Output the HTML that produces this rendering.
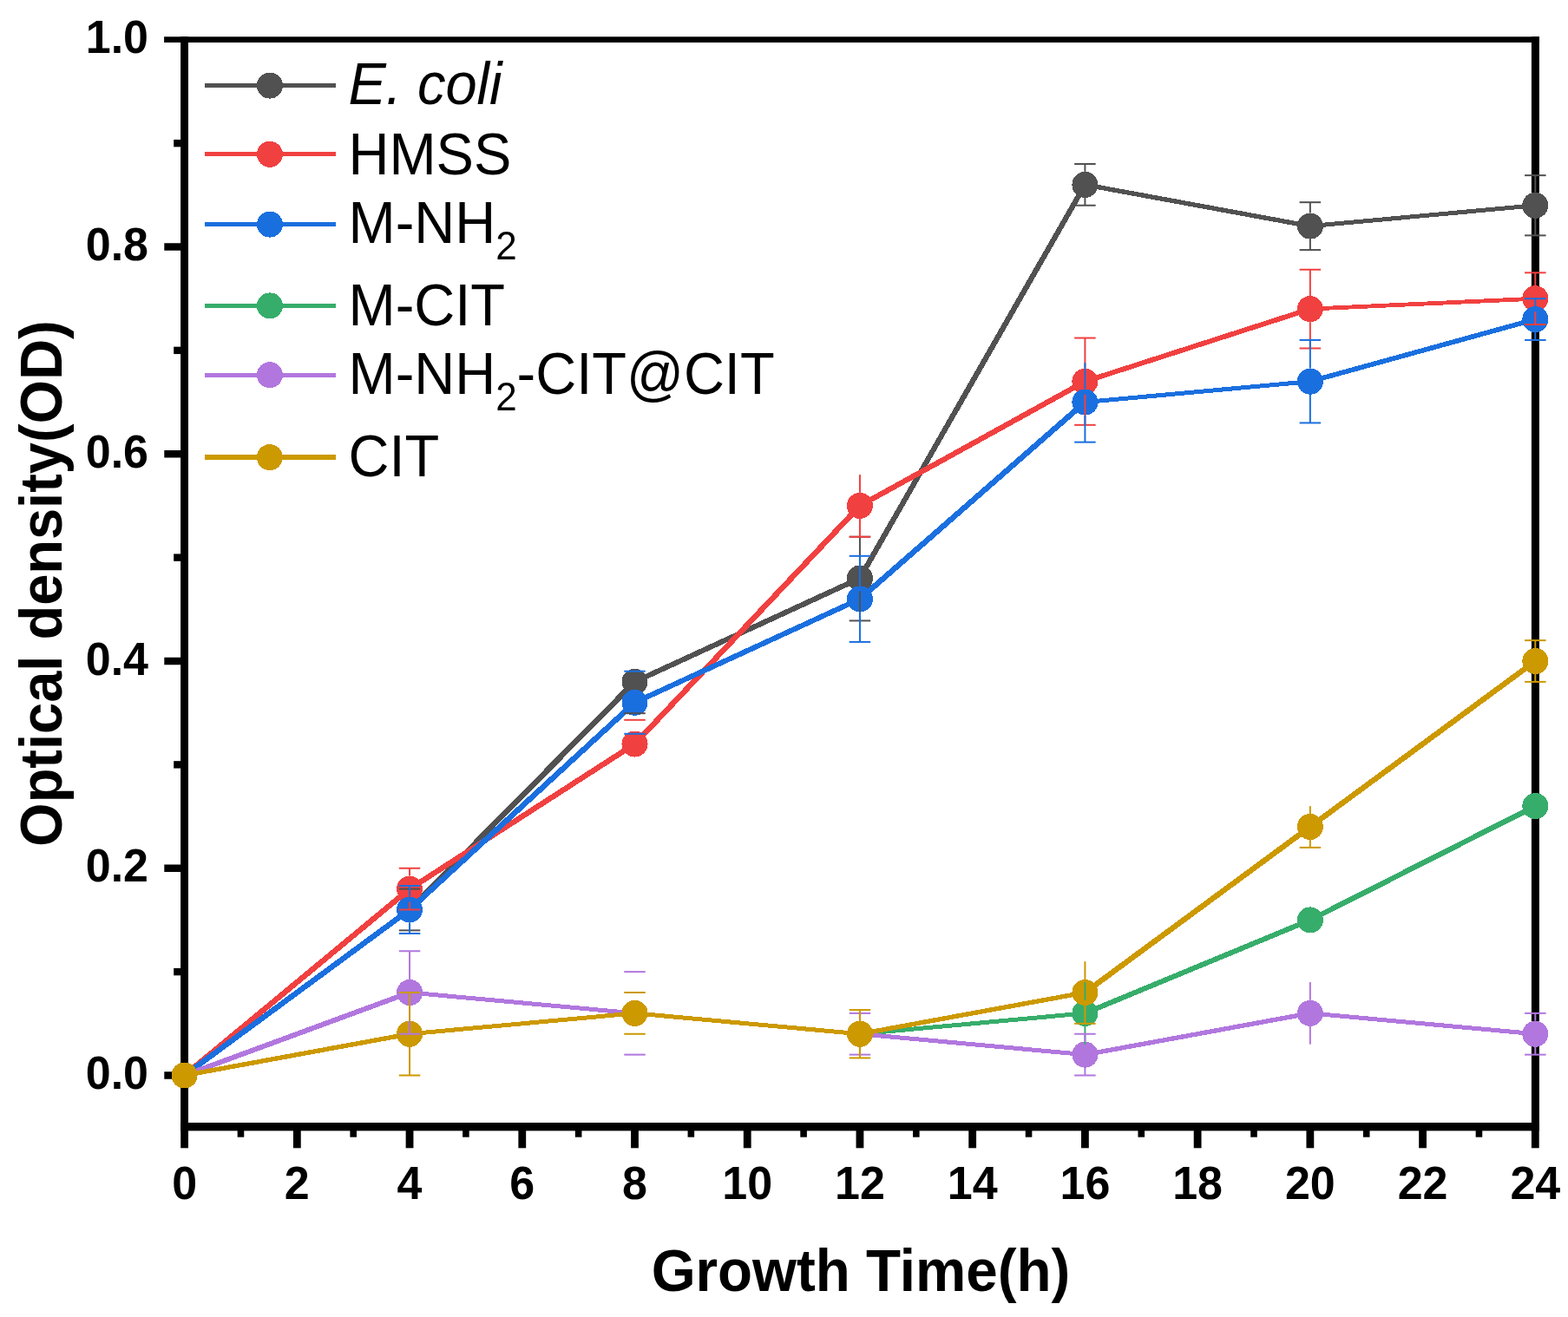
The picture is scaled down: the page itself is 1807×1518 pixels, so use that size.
<!DOCTYPE html><html><head><meta charset="utf-8"><style>html,body{margin:0;padding:0;background:#fff;overflow:hidden}svg{display:block}text{font-family:"Liberation Sans",Arial,Helvetica,sans-serif}</style></head><body>
<svg width="1807" height="1518" viewBox="0 0 1807 1518">
<rect width="1807" height="1518" fill="#fff"/>
<g>
<rect x="208.10" y="42.30" width="8.90" height="1261.10" fill="#000"/>
<rect x="1764.90" y="42.30" width="9.00" height="1261.10" fill="#000"/>
<rect x="189.10" y="42.30" width="1584.80" height="6.70" fill="#000"/>
<rect x="208.10" y="1294.00" width="1565.80" height="9.40" fill="#000"/>
<rect x="189.30" y="1235.25" width="19.30" height="8.50" fill="#000"/>
<rect x="189.30" y="996.50" width="19.30" height="8.50" fill="#000"/>
<rect x="189.30" y="757.75" width="19.30" height="8.50" fill="#000"/>
<rect x="189.30" y="519.00" width="19.30" height="8.50" fill="#000"/>
<rect x="189.30" y="280.25" width="19.30" height="8.50" fill="#000"/>
<rect x="200.20" y="1115.92" width="8.40" height="8.40" fill="#000"/>
<rect x="200.20" y="877.17" width="8.40" height="8.40" fill="#000"/>
<rect x="200.20" y="638.42" width="8.40" height="8.40" fill="#000"/>
<rect x="200.20" y="399.67" width="8.40" height="8.40" fill="#000"/>
<rect x="200.20" y="160.93" width="8.40" height="8.40" fill="#000"/>
<rect x="208.20" y="1302.90" width="8.80" height="20.40" fill="#000"/>
<rect x="337.93" y="1302.90" width="8.80" height="20.40" fill="#000"/>
<rect x="467.65" y="1302.90" width="8.80" height="20.40" fill="#000"/>
<rect x="597.38" y="1302.90" width="8.80" height="20.40" fill="#000"/>
<rect x="727.10" y="1302.90" width="8.80" height="20.40" fill="#000"/>
<rect x="856.83" y="1302.90" width="8.80" height="20.40" fill="#000"/>
<rect x="986.55" y="1302.90" width="8.80" height="20.40" fill="#000"/>
<rect x="1116.27" y="1302.90" width="8.80" height="20.40" fill="#000"/>
<rect x="1246.00" y="1302.90" width="8.80" height="20.40" fill="#000"/>
<rect x="1375.72" y="1302.90" width="8.80" height="20.40" fill="#000"/>
<rect x="1505.45" y="1302.90" width="8.80" height="20.40" fill="#000"/>
<rect x="1635.17" y="1302.90" width="8.80" height="20.40" fill="#000"/>
<rect x="1764.90" y="1302.90" width="8.80" height="20.40" fill="#000"/>
<rect x="273.66" y="1302.90" width="7.60" height="7.80" fill="#000"/>
<rect x="403.39" y="1302.90" width="7.60" height="7.80" fill="#000"/>
<rect x="533.11" y="1302.90" width="7.60" height="7.80" fill="#000"/>
<rect x="662.84" y="1302.90" width="7.60" height="7.80" fill="#000"/>
<rect x="792.56" y="1302.90" width="7.60" height="7.80" fill="#000"/>
<rect x="922.29" y="1302.90" width="7.60" height="7.80" fill="#000"/>
<rect x="1052.01" y="1302.90" width="7.60" height="7.80" fill="#000"/>
<rect x="1181.74" y="1302.90" width="7.60" height="7.80" fill="#000"/>
<rect x="1311.46" y="1302.90" width="7.60" height="7.80" fill="#000"/>
<rect x="1441.19" y="1302.90" width="7.60" height="7.80" fill="#000"/>
<rect x="1570.91" y="1302.90" width="7.60" height="7.80" fill="#000"/>
<rect x="1700.64" y="1302.90" width="7.60" height="7.80" fill="#000"/>
</g>
<g font-weight="bold" font-size="52" fill="#000">
<text text-anchor="end" transform="translate(171,1255.20) scale(1,1.040)">0.0</text>
<text text-anchor="end" transform="translate(171,1016.45) scale(1,1.040)">0.2</text>
<text text-anchor="end" transform="translate(171,777.70) scale(1,1.040)">0.4</text>
<text text-anchor="end" transform="translate(171,538.95) scale(1,1.040)">0.6</text>
<text text-anchor="end" transform="translate(171,300.20) scale(1,1.040)">0.8</text>
<text text-anchor="end" transform="translate(171,61.45) scale(1,1.040)">1.0</text>
<text text-anchor="middle" transform="translate(212.60,1381.7) scale(1,1.040)">0</text>
<text text-anchor="middle" transform="translate(342.32,1381.7) scale(1,1.040)">2</text>
<text text-anchor="middle" transform="translate(472.05,1381.7) scale(1,1.040)">4</text>
<text text-anchor="middle" transform="translate(601.77,1381.7) scale(1,1.040)">6</text>
<text text-anchor="middle" transform="translate(731.50,1381.7) scale(1,1.040)">8</text>
<text text-anchor="middle" transform="translate(861.23,1381.7) scale(1,1.040)">10</text>
<text text-anchor="middle" transform="translate(990.95,1381.7) scale(1,1.040)">12</text>
<text text-anchor="middle" transform="translate(1120.67,1381.7) scale(1,1.040)">14</text>
<text text-anchor="middle" transform="translate(1250.40,1381.7) scale(1,1.040)">16</text>
<text text-anchor="middle" transform="translate(1380.12,1381.7) scale(1,1.040)">18</text>
<text text-anchor="middle" transform="translate(1509.85,1381.7) scale(1,1.040)">20</text>
<text text-anchor="middle" transform="translate(1639.57,1381.7) scale(1,1.040)">22</text>
<text text-anchor="middle" transform="translate(1769.30,1381.7) scale(1,1.040)">24</text>
</g>
<text font-weight="bold" font-size="65.5" text-anchor="middle" transform="translate(992,1488) scale(1,1.040)">Growth Time(h)</text>
<text font-weight="bold" font-size="65" text-anchor="middle" transform="translate(70.5,672.6) rotate(-90) scale(1,1.040)">Optical density(OD)</text>
<g>
<path d="M210.30,1237.20 L469.75,1046.20 L474.35,1046.20 L474.35,1050.80 L214.90,1241.80 L210.30,1241.80Z M469.75,1046.20 L729.20,783.58 L733.80,783.58 L733.80,788.17 L474.35,1050.80 L469.75,1050.80Z M729.20,783.58 L988.65,664.20 L993.25,664.20 L993.25,668.80 L733.80,788.17 L729.20,788.17Z M988.65,664.20 L1248.10,210.57 L1252.70,210.57 L1252.70,215.18 L993.25,668.80 L988.65,668.80Z M1248.10,210.57 L1252.70,210.57 L1512.15,258.33 L1512.15,262.93 L1507.55,262.93 L1248.10,215.18Z M1507.55,258.33 L1767.00,234.45 L1771.60,234.45 L1771.60,239.05 L1512.15,262.93 L1507.55,262.93Z" fill="#515151" shape-rendering="crispEdges"/>
<circle cx="212.60" cy="1239.50" r="15.00" fill="#515151" shape-rendering="crispEdges"/>
<circle cx="472.05" cy="1048.50" r="15.00" fill="#515151" shape-rendering="crispEdges"/>
<circle cx="731.50" cy="785.88" r="15.00" fill="#515151" shape-rendering="crispEdges"/>
<circle cx="990.95" cy="666.50" r="15.00" fill="#515151" shape-rendering="crispEdges"/>
<circle cx="1250.40" cy="212.88" r="15.00" fill="#515151" shape-rendering="crispEdges"/>
<circle cx="1509.85" cy="260.63" r="15.00" fill="#515151" shape-rendering="crispEdges"/>
<circle cx="1769.30" cy="236.75" r="15.00" fill="#515151" shape-rendering="crispEdges"/>
<path d="M210.30,1237.20 L469.75,1022.33 L474.35,1022.33 L474.35,1026.92 L214.90,1241.80 L210.30,1241.80Z M469.75,1022.33 L729.20,855.20 L733.80,855.20 L733.80,859.80 L474.35,1026.92 L469.75,1026.92Z M729.20,855.20 L988.65,580.64 L993.25,580.64 L993.25,585.24 L733.80,859.80 L729.20,859.80Z M988.65,580.64 L1248.10,437.39 L1252.70,437.39 L1252.70,441.99 L993.25,585.24 L988.65,585.24Z M1248.10,437.39 L1507.55,353.82 L1512.15,353.82 L1512.15,358.43 L1252.70,441.99 L1248.10,441.99Z M1507.55,353.82 L1767.00,341.89 L1771.60,341.89 L1771.60,346.49 L1512.15,358.43 L1507.55,358.43Z" fill="#F14040" shape-rendering="crispEdges"/>
<circle cx="212.60" cy="1239.50" r="15.00" fill="#F14040" shape-rendering="crispEdges"/>
<circle cx="472.05" cy="1024.62" r="15.00" fill="#F14040" shape-rendering="crispEdges"/>
<circle cx="731.50" cy="857.50" r="15.00" fill="#F14040" shape-rendering="crispEdges"/>
<circle cx="990.95" cy="582.94" r="15.00" fill="#F14040" shape-rendering="crispEdges"/>
<circle cx="1250.40" cy="439.69" r="15.00" fill="#F14040" shape-rendering="crispEdges"/>
<circle cx="1509.85" cy="356.12" r="15.00" fill="#F14040" shape-rendering="crispEdges"/>
<circle cx="1769.30" cy="344.19" r="15.00" fill="#F14040" shape-rendering="crispEdges"/>
<path d="M210.30,1237.20 L469.75,1046.20 L474.35,1046.20 L474.35,1050.80 L214.90,1241.80 L210.30,1241.80Z M469.75,1046.20 L729.20,807.45 L733.80,807.45 L733.80,812.05 L474.35,1050.80 L469.75,1050.80Z M729.20,807.45 L988.65,688.08 L993.25,688.08 L993.25,692.67 L733.80,812.05 L729.20,812.05Z M988.65,688.08 L1248.10,461.26 L1252.70,461.26 L1252.70,465.86 L993.25,692.67 L988.65,692.67Z M1248.10,461.26 L1507.55,437.39 L1512.15,437.39 L1512.15,441.99 L1252.70,465.86 L1248.10,465.86Z M1507.55,437.39 L1767.00,365.76 L1771.60,365.76 L1771.60,370.36 L1512.15,441.99 L1507.55,441.99Z" fill="#1A6FDF" shape-rendering="crispEdges"/>
<circle cx="212.60" cy="1239.50" r="15.00" fill="#1A6FDF" shape-rendering="crispEdges"/>
<circle cx="472.05" cy="1048.50" r="15.00" fill="#1A6FDF" shape-rendering="crispEdges"/>
<circle cx="731.50" cy="809.75" r="15.00" fill="#1A6FDF" shape-rendering="crispEdges"/>
<circle cx="990.95" cy="690.38" r="15.00" fill="#1A6FDF" shape-rendering="crispEdges"/>
<circle cx="1250.40" cy="463.56" r="15.00" fill="#1A6FDF" shape-rendering="crispEdges"/>
<circle cx="1509.85" cy="439.69" r="15.00" fill="#1A6FDF" shape-rendering="crispEdges"/>
<circle cx="1769.30" cy="368.06" r="15.00" fill="#1A6FDF" shape-rendering="crispEdges"/>
<path d="M210.30,1237.20 L469.75,1189.45 L474.35,1189.45 L474.35,1194.05 L214.90,1241.80 L210.30,1241.80Z M469.75,1189.45 L729.20,1165.58 L733.80,1165.58 L733.80,1170.17 L474.35,1194.05 L469.75,1194.05Z M729.20,1165.58 L733.80,1165.58 L993.25,1189.45 L993.25,1194.05 L988.65,1194.05 L729.20,1170.17Z M988.65,1189.45 L1248.10,1165.58 L1252.70,1165.58 L1252.70,1170.17 L993.25,1194.05 L988.65,1194.05Z M1248.10,1165.58 L1507.55,1058.14 L1512.15,1058.14 L1512.15,1062.74 L1252.70,1170.17 L1248.10,1170.17Z M1507.55,1058.14 L1767.00,926.83 L1771.60,926.83 L1771.60,931.42 L1512.15,1062.74 L1507.55,1062.74Z" fill="#37AD6B" shape-rendering="crispEdges"/>
<circle cx="212.60" cy="1239.50" r="15.00" fill="#37AD6B" shape-rendering="crispEdges"/>
<circle cx="472.05" cy="1191.75" r="15.00" fill="#37AD6B" shape-rendering="crispEdges"/>
<circle cx="731.50" cy="1167.88" r="15.00" fill="#37AD6B" shape-rendering="crispEdges"/>
<circle cx="990.95" cy="1191.75" r="15.00" fill="#37AD6B" shape-rendering="crispEdges"/>
<circle cx="1250.40" cy="1167.88" r="15.00" fill="#37AD6B" shape-rendering="crispEdges"/>
<circle cx="1509.85" cy="1060.44" r="15.00" fill="#37AD6B" shape-rendering="crispEdges"/>
<circle cx="1769.30" cy="929.12" r="15.00" fill="#37AD6B" shape-rendering="crispEdges"/>
<path d="M210.30,1237.20 L469.75,1141.70 L474.35,1141.70 L474.35,1146.30 L214.90,1241.80 L210.30,1241.80Z M469.75,1141.70 L474.35,1141.70 L733.80,1165.58 L733.80,1170.17 L729.20,1170.17 L469.75,1146.30Z M729.20,1165.58 L733.80,1165.58 L993.25,1189.45 L993.25,1194.05 L988.65,1194.05 L729.20,1170.17Z M988.65,1189.45 L993.25,1189.45 L1252.70,1213.33 L1252.70,1217.92 L1248.10,1217.92 L988.65,1194.05Z M1248.10,1213.33 L1507.55,1165.58 L1512.15,1165.58 L1512.15,1170.17 L1252.70,1217.92 L1248.10,1217.92Z M1507.55,1165.58 L1512.15,1165.58 L1771.60,1189.45 L1771.60,1194.05 L1767.00,1194.05 L1507.55,1170.17Z" fill="#B177DE" shape-rendering="crispEdges"/>
<circle cx="212.60" cy="1239.50" r="15.00" fill="#B177DE" shape-rendering="crispEdges"/>
<circle cx="472.05" cy="1144.00" r="15.00" fill="#B177DE" shape-rendering="crispEdges"/>
<circle cx="731.50" cy="1167.88" r="15.00" fill="#B177DE" shape-rendering="crispEdges"/>
<circle cx="990.95" cy="1191.75" r="15.00" fill="#B177DE" shape-rendering="crispEdges"/>
<circle cx="1250.40" cy="1215.62" r="15.00" fill="#B177DE" shape-rendering="crispEdges"/>
<circle cx="1509.85" cy="1167.88" r="15.00" fill="#B177DE" shape-rendering="crispEdges"/>
<circle cx="1769.30" cy="1191.75" r="15.00" fill="#B177DE" shape-rendering="crispEdges"/>
<path d="M210.30,1237.20 L469.75,1189.45 L474.35,1189.45 L474.35,1194.05 L214.90,1241.80 L210.30,1241.80Z M469.75,1189.45 L729.20,1165.58 L733.80,1165.58 L733.80,1170.17 L474.35,1194.05 L469.75,1194.05Z M729.20,1165.58 L733.80,1165.58 L993.25,1189.45 L993.25,1194.05 L988.65,1194.05 L729.20,1170.17Z M988.65,1189.45 L1248.10,1141.70 L1252.70,1141.70 L1252.70,1146.30 L993.25,1194.05 L988.65,1194.05Z M1248.10,1141.70 L1507.55,950.70 L1512.15,950.70 L1512.15,955.30 L1252.70,1146.30 L1248.10,1146.30Z M1507.55,950.70 L1767.00,759.70 L1771.60,759.70 L1771.60,764.30 L1512.15,955.30 L1507.55,955.30Z" fill="#CC9900" shape-rendering="crispEdges"/>
<circle cx="212.60" cy="1239.50" r="15.00" fill="#CC9900" shape-rendering="crispEdges"/>
<circle cx="472.05" cy="1191.75" r="15.00" fill="#CC9900" shape-rendering="crispEdges"/>
<circle cx="731.50" cy="1167.88" r="15.00" fill="#CC9900" shape-rendering="crispEdges"/>
<circle cx="990.95" cy="1191.75" r="15.00" fill="#CC9900" shape-rendering="crispEdges"/>
<circle cx="1250.40" cy="1144.00" r="15.00" fill="#CC9900" shape-rendering="crispEdges"/>
<circle cx="1509.85" cy="953.00" r="15.00" fill="#CC9900" shape-rendering="crispEdges"/>
<circle cx="1769.30" cy="762.00" r="15.00" fill="#CC9900" shape-rendering="crispEdges"/>
</g>
<g>
<rect x="471.05" y="1024.62" width="2.00" height="8.88" fill="#515151"/>
<rect x="471.05" y="1063.50" width="2.00" height="8.88" fill="#515151"/>
<rect x="459.80" y="1023.62" width="24.50" height="2.00" fill="#515151"/>
<rect x="459.80" y="1071.38" width="24.50" height="2.00" fill="#515151"/>
<rect x="471.05" y="1000.75" width="2.00" height="8.88" fill="#F14040"/>
<rect x="471.05" y="1039.62" width="2.00" height="8.88" fill="#F14040"/>
<rect x="459.80" y="999.75" width="24.50" height="2.00" fill="#F14040"/>
<rect x="459.80" y="1047.50" width="24.50" height="2.00" fill="#F14040"/>
<rect x="471.05" y="1021.04" width="2.00" height="12.46" fill="#1A6FDF"/>
<rect x="471.05" y="1063.50" width="2.00" height="12.46" fill="#1A6FDF"/>
<rect x="459.80" y="1020.04" width="24.50" height="2.00" fill="#1A6FDF"/>
<rect x="459.80" y="1074.96" width="24.50" height="2.00" fill="#1A6FDF"/>
<rect x="471.05" y="1096.25" width="2.00" height="32.75" fill="#B177DE"/>
<rect x="471.05" y="1159.00" width="2.00" height="32.75" fill="#B177DE"/>
<rect x="459.80" y="1095.25" width="24.50" height="2.00" fill="#B177DE"/>
<rect x="459.80" y="1190.75" width="24.50" height="2.00" fill="#B177DE"/>
<rect x="471.05" y="1144.00" width="2.00" height="32.75" fill="#CC9900"/>
<rect x="471.05" y="1206.75" width="2.00" height="32.75" fill="#CC9900"/>
<rect x="459.80" y="1143.00" width="24.50" height="2.00" fill="#CC9900"/>
<rect x="459.80" y="1238.50" width="24.50" height="2.00" fill="#CC9900"/>
<rect x="719.25" y="821.16" width="24.50" height="2.00" fill="#515151"/>
<rect x="719.25" y="828.81" width="24.50" height="2.00" fill="#F14040"/>
<rect x="719.25" y="772.70" width="24.50" height="2.00" fill="#1A6FDF"/>
<rect x="719.25" y="844.80" width="24.50" height="2.00" fill="#1A6FDF"/>
<rect x="719.25" y="1119.12" width="24.50" height="2.00" fill="#B177DE"/>
<rect x="719.25" y="1214.62" width="24.50" height="2.00" fill="#B177DE"/>
<rect x="719.25" y="1143.00" width="24.50" height="2.00" fill="#CC9900"/>
<rect x="719.25" y="1190.75" width="24.50" height="2.00" fill="#CC9900"/>
<rect x="989.95" y="618.75" width="2.00" height="32.75" fill="#515151"/>
<rect x="989.95" y="681.50" width="2.00" height="33.94" fill="#515151"/>
<rect x="978.70" y="617.75" width="24.50" height="2.00" fill="#515151"/>
<rect x="978.70" y="714.44" width="24.50" height="2.00" fill="#515151"/>
<rect x="989.95" y="547.12" width="2.00" height="20.81" fill="#F14040"/>
<rect x="989.95" y="597.94" width="2.00" height="20.81" fill="#F14040"/>
<rect x="978.70" y="617.75" width="24.50" height="2.00" fill="#F14040"/>
<rect x="989.95" y="640.83" width="2.00" height="34.54" fill="#1A6FDF"/>
<rect x="989.95" y="705.38" width="2.00" height="34.54" fill="#1A6FDF"/>
<rect x="978.70" y="639.83" width="24.50" height="2.00" fill="#1A6FDF"/>
<rect x="978.70" y="738.92" width="24.50" height="2.00" fill="#1A6FDF"/>
<rect x="989.95" y="1167.88" width="2.00" height="8.88" fill="#B177DE"/>
<rect x="989.95" y="1206.75" width="2.00" height="8.88" fill="#B177DE"/>
<rect x="978.70" y="1166.88" width="24.50" height="2.00" fill="#B177DE"/>
<rect x="978.70" y="1214.62" width="24.50" height="2.00" fill="#B177DE"/>
<rect x="989.95" y="1164.06" width="2.00" height="12.69" fill="#CC9900"/>
<rect x="989.95" y="1206.75" width="2.00" height="12.69" fill="#CC9900"/>
<rect x="978.70" y="1163.06" width="24.50" height="2.00" fill="#CC9900"/>
<rect x="978.70" y="1218.44" width="24.50" height="2.00" fill="#CC9900"/>
<rect x="1249.40" y="189.00" width="2.00" height="8.88" fill="#515151"/>
<rect x="1249.40" y="227.88" width="2.00" height="8.88" fill="#515151"/>
<rect x="1238.15" y="188.00" width="24.50" height="2.00" fill="#515151"/>
<rect x="1238.15" y="235.75" width="24.50" height="2.00" fill="#515151"/>
<rect x="1249.40" y="389.55" width="2.00" height="35.14" fill="#F14040"/>
<rect x="1249.40" y="454.69" width="2.00" height="35.14" fill="#F14040"/>
<rect x="1238.15" y="388.55" width="24.50" height="2.00" fill="#F14040"/>
<rect x="1238.15" y="488.83" width="24.50" height="2.00" fill="#F14040"/>
<rect x="1249.40" y="418.20" width="2.00" height="30.36" fill="#1A6FDF"/>
<rect x="1249.40" y="478.56" width="2.00" height="31.08" fill="#1A6FDF"/>
<rect x="1238.15" y="508.64" width="24.50" height="2.00" fill="#1A6FDF"/>
<rect x="1249.40" y="1132.06" width="2.00" height="20.81" fill="#37AD6B"/>
<rect x="1249.40" y="1182.88" width="2.00" height="20.81" fill="#37AD6B"/>
<rect x="1249.40" y="1191.75" width="2.00" height="8.88" fill="#B177DE"/>
<rect x="1249.40" y="1230.62" width="2.00" height="8.88" fill="#B177DE"/>
<rect x="1238.15" y="1190.75" width="24.50" height="2.00" fill="#B177DE"/>
<rect x="1238.15" y="1238.50" width="24.50" height="2.00" fill="#B177DE"/>
<rect x="1249.40" y="1108.19" width="2.00" height="20.81" fill="#CC9900"/>
<rect x="1249.40" y="1159.00" width="2.00" height="20.81" fill="#CC9900"/>
<rect x="1238.15" y="1178.81" width="24.50" height="2.00" fill="#CC9900"/>
<rect x="1508.85" y="233.17" width="2.00" height="12.46" fill="#515151"/>
<rect x="1508.85" y="275.63" width="2.00" height="12.46" fill="#515151"/>
<rect x="1497.60" y="232.17" width="24.50" height="2.00" fill="#515151"/>
<rect x="1497.60" y="287.08" width="24.50" height="2.00" fill="#515151"/>
<rect x="1508.85" y="310.76" width="2.00" height="30.36" fill="#F14040"/>
<rect x="1508.85" y="371.12" width="2.00" height="30.36" fill="#F14040"/>
<rect x="1497.60" y="309.76" width="24.50" height="2.00" fill="#F14040"/>
<rect x="1497.60" y="400.49" width="24.50" height="2.00" fill="#F14040"/>
<rect x="1508.85" y="391.94" width="2.00" height="32.75" fill="#1A6FDF"/>
<rect x="1508.85" y="454.69" width="2.00" height="32.75" fill="#1A6FDF"/>
<rect x="1497.60" y="390.94" width="24.50" height="2.00" fill="#1A6FDF"/>
<rect x="1497.60" y="486.44" width="24.50" height="2.00" fill="#1A6FDF"/>
<rect x="1508.85" y="1132.06" width="2.00" height="20.81" fill="#B177DE"/>
<rect x="1508.85" y="1182.88" width="2.00" height="20.81" fill="#B177DE"/>
<rect x="1508.85" y="929.12" width="2.00" height="8.88" fill="#CC9900"/>
<rect x="1508.85" y="968.00" width="2.00" height="8.88" fill="#CC9900"/>
<rect x="1497.60" y="975.88" width="24.50" height="2.00" fill="#CC9900"/>
<rect x="1768.30" y="202.13" width="2.00" height="19.62" fill="#515151"/>
<rect x="1768.30" y="251.75" width="2.00" height="19.62" fill="#515151"/>
<rect x="1757.05" y="201.13" width="24.50" height="2.00" fill="#515151"/>
<rect x="1757.05" y="270.37" width="24.50" height="2.00" fill="#515151"/>
<rect x="1768.30" y="314.34" width="2.00" height="14.84" fill="#F14040"/>
<rect x="1768.30" y="359.19" width="2.00" height="14.84" fill="#F14040"/>
<rect x="1757.05" y="313.34" width="24.50" height="2.00" fill="#F14040"/>
<rect x="1757.05" y="373.03" width="24.50" height="2.00" fill="#F14040"/>
<rect x="1768.30" y="344.19" width="2.00" height="8.88" fill="#1A6FDF"/>
<rect x="1768.30" y="383.06" width="2.00" height="8.88" fill="#1A6FDF"/>
<rect x="1757.05" y="343.19" width="24.50" height="2.00" fill="#1A6FDF"/>
<rect x="1757.05" y="390.94" width="24.50" height="2.00" fill="#1A6FDF"/>
<rect x="1768.30" y="1167.88" width="2.00" height="8.88" fill="#B177DE"/>
<rect x="1768.30" y="1206.75" width="2.00" height="8.88" fill="#B177DE"/>
<rect x="1757.05" y="1166.88" width="24.50" height="2.00" fill="#B177DE"/>
<rect x="1757.05" y="1214.62" width="24.50" height="2.00" fill="#B177DE"/>
<rect x="1768.30" y="738.12" width="2.00" height="8.88" fill="#CC9900"/>
<rect x="1768.30" y="777.00" width="2.00" height="8.88" fill="#CC9900"/>
<rect x="1757.05" y="737.12" width="24.50" height="2.00" fill="#CC9900"/>
<rect x="1757.05" y="784.88" width="24.50" height="2.00" fill="#CC9900"/>
</g>
<g>
<line x1="235.5" y1="98.60" x2="386.5" y2="98.60" stroke="#515151" stroke-width="5.30" shape-rendering="crispEdges"/>
<circle cx="310.9" cy="98.60" r="15" fill="#515151" shape-rendering="crispEdges"/>
<text font-size="65" fill="#000" transform="translate(401.5,119.80) scale(1,1.040)"><tspan font-style="italic">E. coli</tspan></text>
<line x1="235.5" y1="177.80" x2="386.5" y2="177.80" stroke="#F14040" stroke-width="5.30" shape-rendering="crispEdges"/>
<circle cx="310.9" cy="177.80" r="15" fill="#F14040" shape-rendering="crispEdges"/>
<text font-size="65" fill="#000" transform="translate(401.5,200.60) scale(1,1.040)">HMSS</text>
<line x1="235.5" y1="258.60" x2="386.5" y2="258.60" stroke="#1A6FDF" stroke-width="5.30" shape-rendering="crispEdges"/>
<circle cx="310.9" cy="258.60" r="15" fill="#1A6FDF" shape-rendering="crispEdges"/>
<text font-size="65" fill="#000" transform="translate(401.5,280.30) scale(1,1.040)">M-NH<tspan font-size="44" dy="17.7">2</tspan></text>
<line x1="235.5" y1="352.40" x2="386.5" y2="352.40" stroke="#37AD6B" stroke-width="5.30" shape-rendering="crispEdges"/>
<circle cx="310.9" cy="352.40" r="15" fill="#37AD6B" shape-rendering="crispEdges"/>
<text font-size="65" fill="#000" transform="translate(401.5,374.50) scale(1,1.040)">M-CIT</text>
<line x1="235.5" y1="432.20" x2="386.5" y2="432.20" stroke="#B177DE" stroke-width="5.30" shape-rendering="crispEdges"/>
<circle cx="310.9" cy="432.20" r="15" fill="#B177DE" shape-rendering="crispEdges"/>
<text font-size="65" fill="#000" transform="translate(401.5,454.30) scale(1,1.040)">M-NH<tspan font-size="44" dy="18.3">2</tspan><tspan dy="-18.3">-CIT@CIT</tspan></text>
<line x1="235.5" y1="527.10" x2="386.5" y2="527.10" stroke="#CC9900" stroke-width="5.30" shape-rendering="crispEdges"/>
<circle cx="310.9" cy="527.10" r="15" fill="#CC9900" shape-rendering="crispEdges"/>
<text font-size="65" fill="#000" transform="translate(401.5,549.20) scale(1,1.040)">CIT</text>
</g>
</svg></body></html>
